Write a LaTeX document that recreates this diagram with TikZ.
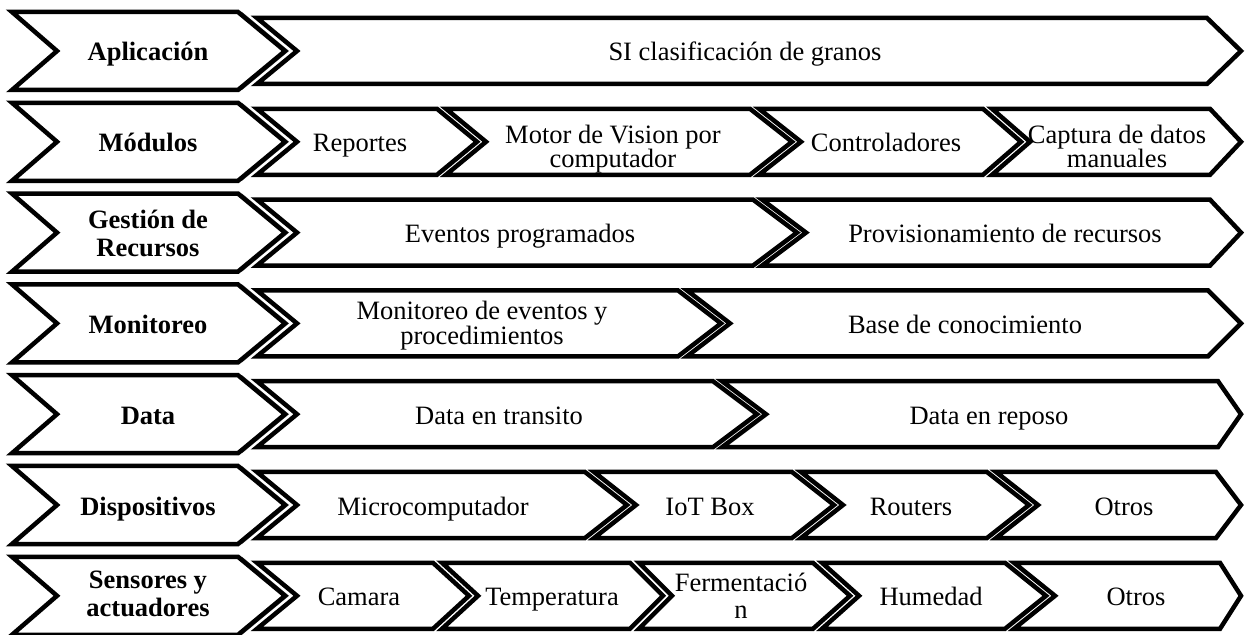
\documentclass[tikz,border=0pt]{standalone}
\usepackage{fontspec}
\setmainfont{Liberation Serif}
\tikzset{
  chev/.style={draw=black, fill=white, line width=2.25pt, line join=miter},
  hdrshadow/.style={fill=black!65, draw=none},
  lbl/.style={font=\fontsize{13.25pt}{15pt}\selectfont, inner sep=0pt, anchor=base},
  hlbl/.style={font=\fontsize{13.25pt}{15pt}\selectfont\bfseries, inner sep=0pt, anchor=base}
}
% two-line text whose baseline is the first line; #1 = line spacing
\newcommand\twoline[2]{\parbox[t]{200pt}{\centering\baselineskip=#1\lineskiplimit=-\maxdimen #2}}
% #2 top y, #3 left x, #4 notch depth, #5 top-right x, #6 tip depth, #7 height
\newcommand\chevshape[7][chev]{%
  \path[#1] (#3,#2) -- (#5,#2) -- ({#5+#6},{#2+#7/2}) -- (#5,{#2+#7}) -- (#3,{#2+#7}) -- ({#3+#4},{#2+#7/2}) -- cycle;}
\newcommand\header[1]{%
  \begin{scope}[xshift=2pt]\chevshape[hdrshadow]{#1}{12}{45}{238}{47}{78}\end{scope}
  \chevshape{#1}{12}{45}{238}{47}{78}}
\begin{document}
\begin{tikzpicture}[x=0.5pt,y=-0.5pt]
\useasboundingbox (0,0) rectangle (1246,635);
% ---------- Row 0
\chevshape{18}{257}{40}{1207}{34}{66}
\header{12}
\node[lbl] (c0a) at (745,61) {SI clasificación de granos};
\node[hlbl] (h0) at (148,61) {Aplicación};
% ---------- Row 1
\chevshape{108.8}{257}{40}{437}{40}{66}
\chevshape{108.8}{446}{40}{750}{42}{66}
\chevshape{108.8}{759}{42}{983}{38}{66}
\chevshape{108.8}{992}{38}{1210}{31}{66}
\header{102.8}
\node[hlbl] (h1) at (148,151.8) {Módulos};
\node[lbl] (c1a) at (360,151.8) {Reportes};
\node[lbl] (c1b) at (613,143.8) {\twoline{12pt}{Motor de Vision por\\computador}};
\node[lbl] (c1c) at (886,151.8) {Controladores};
\node[lbl] (c1d) at (1117,143.8) {\twoline{12pt}{Captura de datos\\manuales}};
% ---------- Row 2
\chevshape{199.6}{257}{40}{753}{44}{66}
\chevshape{199.6}{762}{44}{1210}{31}{66}
\header{193.6}
\node[hlbl] (h2) at (148,228.1) {\twoline{14pt}{Gestión de\\Recursos}};
\node[lbl] (c2a) at (520,242.6) {Eventos programados};
\node[lbl] (c2b) at (1005,242.6) {Provisionamiento de recursos};
% ---------- Row 3
\chevshape{290.4}{257}{40}{678}{43}{66}
\chevshape{290.4}{687}{43}{1208}{33}{66}
\header{284.4}
\node[hlbl] (h3) at (148,333.4) {Monitoreo};
\node[lbl] (c3a) at (482,320) {\twoline{12.5pt}{Monitoreo de eventos y\\procedimientos}};
\node[lbl] (c3b) at (965,333.4) {Base de conocimiento};
% ---------- Row 4
\chevshape{381.2}{257}{40}{713}{44}{66}
\chevshape{381.2}{722}{44}{1218}{23}{66}
\header{375.2}
\node[hlbl] (h4) at (148,424.2) {Data};
\node[lbl] (c4a) at (499,424.2) {Data en transito};
\node[lbl] (c4b) at (989,424.2) {Data en reposo};
% ---------- Row 5
\chevshape{472}{257}{40}{585}{42}{66}
\chevshape{472}{594}{42}{792}{42}{66}
\chevshape{472}{801}{42}{987}{42}{66}
\chevshape{472}{996}{42}{1216}{25}{66}
\header{466}
\node[hlbl] (h5) at (148,515) {Dispositivos};
\node[lbl] (c5a) at (433,515) {Microcomputador};
\node[lbl] (c5b) at (710,515) {IoT Box};
\node[lbl] (c5c) at (911,515) {Routers};
\node[lbl] (c5d) at (1124,515) {Otros};
% ---------- Row 6
\chevshape{562.8}{257}{40}{433}{36}{66}
\chevshape{562.8}{442}{36}{630}{33}{66}
\chevshape{562.8}{639}{33}{813}{37}{66}
\chevshape{562.8}{822}{37}{1005}{41}{66}
\chevshape{562.8}{1014}{41}{1220}{21}{66}
\header{556.8}
\node[hlbl] (h6) at (148,588.8) {\twoline{14pt}{Sensores y\\actuadores}};
\node[lbl] (c6a) at (359,605.8) {Camara};
\node[lbl] (c6b) at (552,605.8) {Temperatura};
\node[lbl] (c6c) at (741,591.8) {\twoline{13.25pt}{Fermentació\\n}};
\node[lbl] (c6d) at (931,605.8) {Humedad};
\node[lbl] (c6e) at (1136,605.8) {Otros};
\end{tikzpicture}
\end{document}
